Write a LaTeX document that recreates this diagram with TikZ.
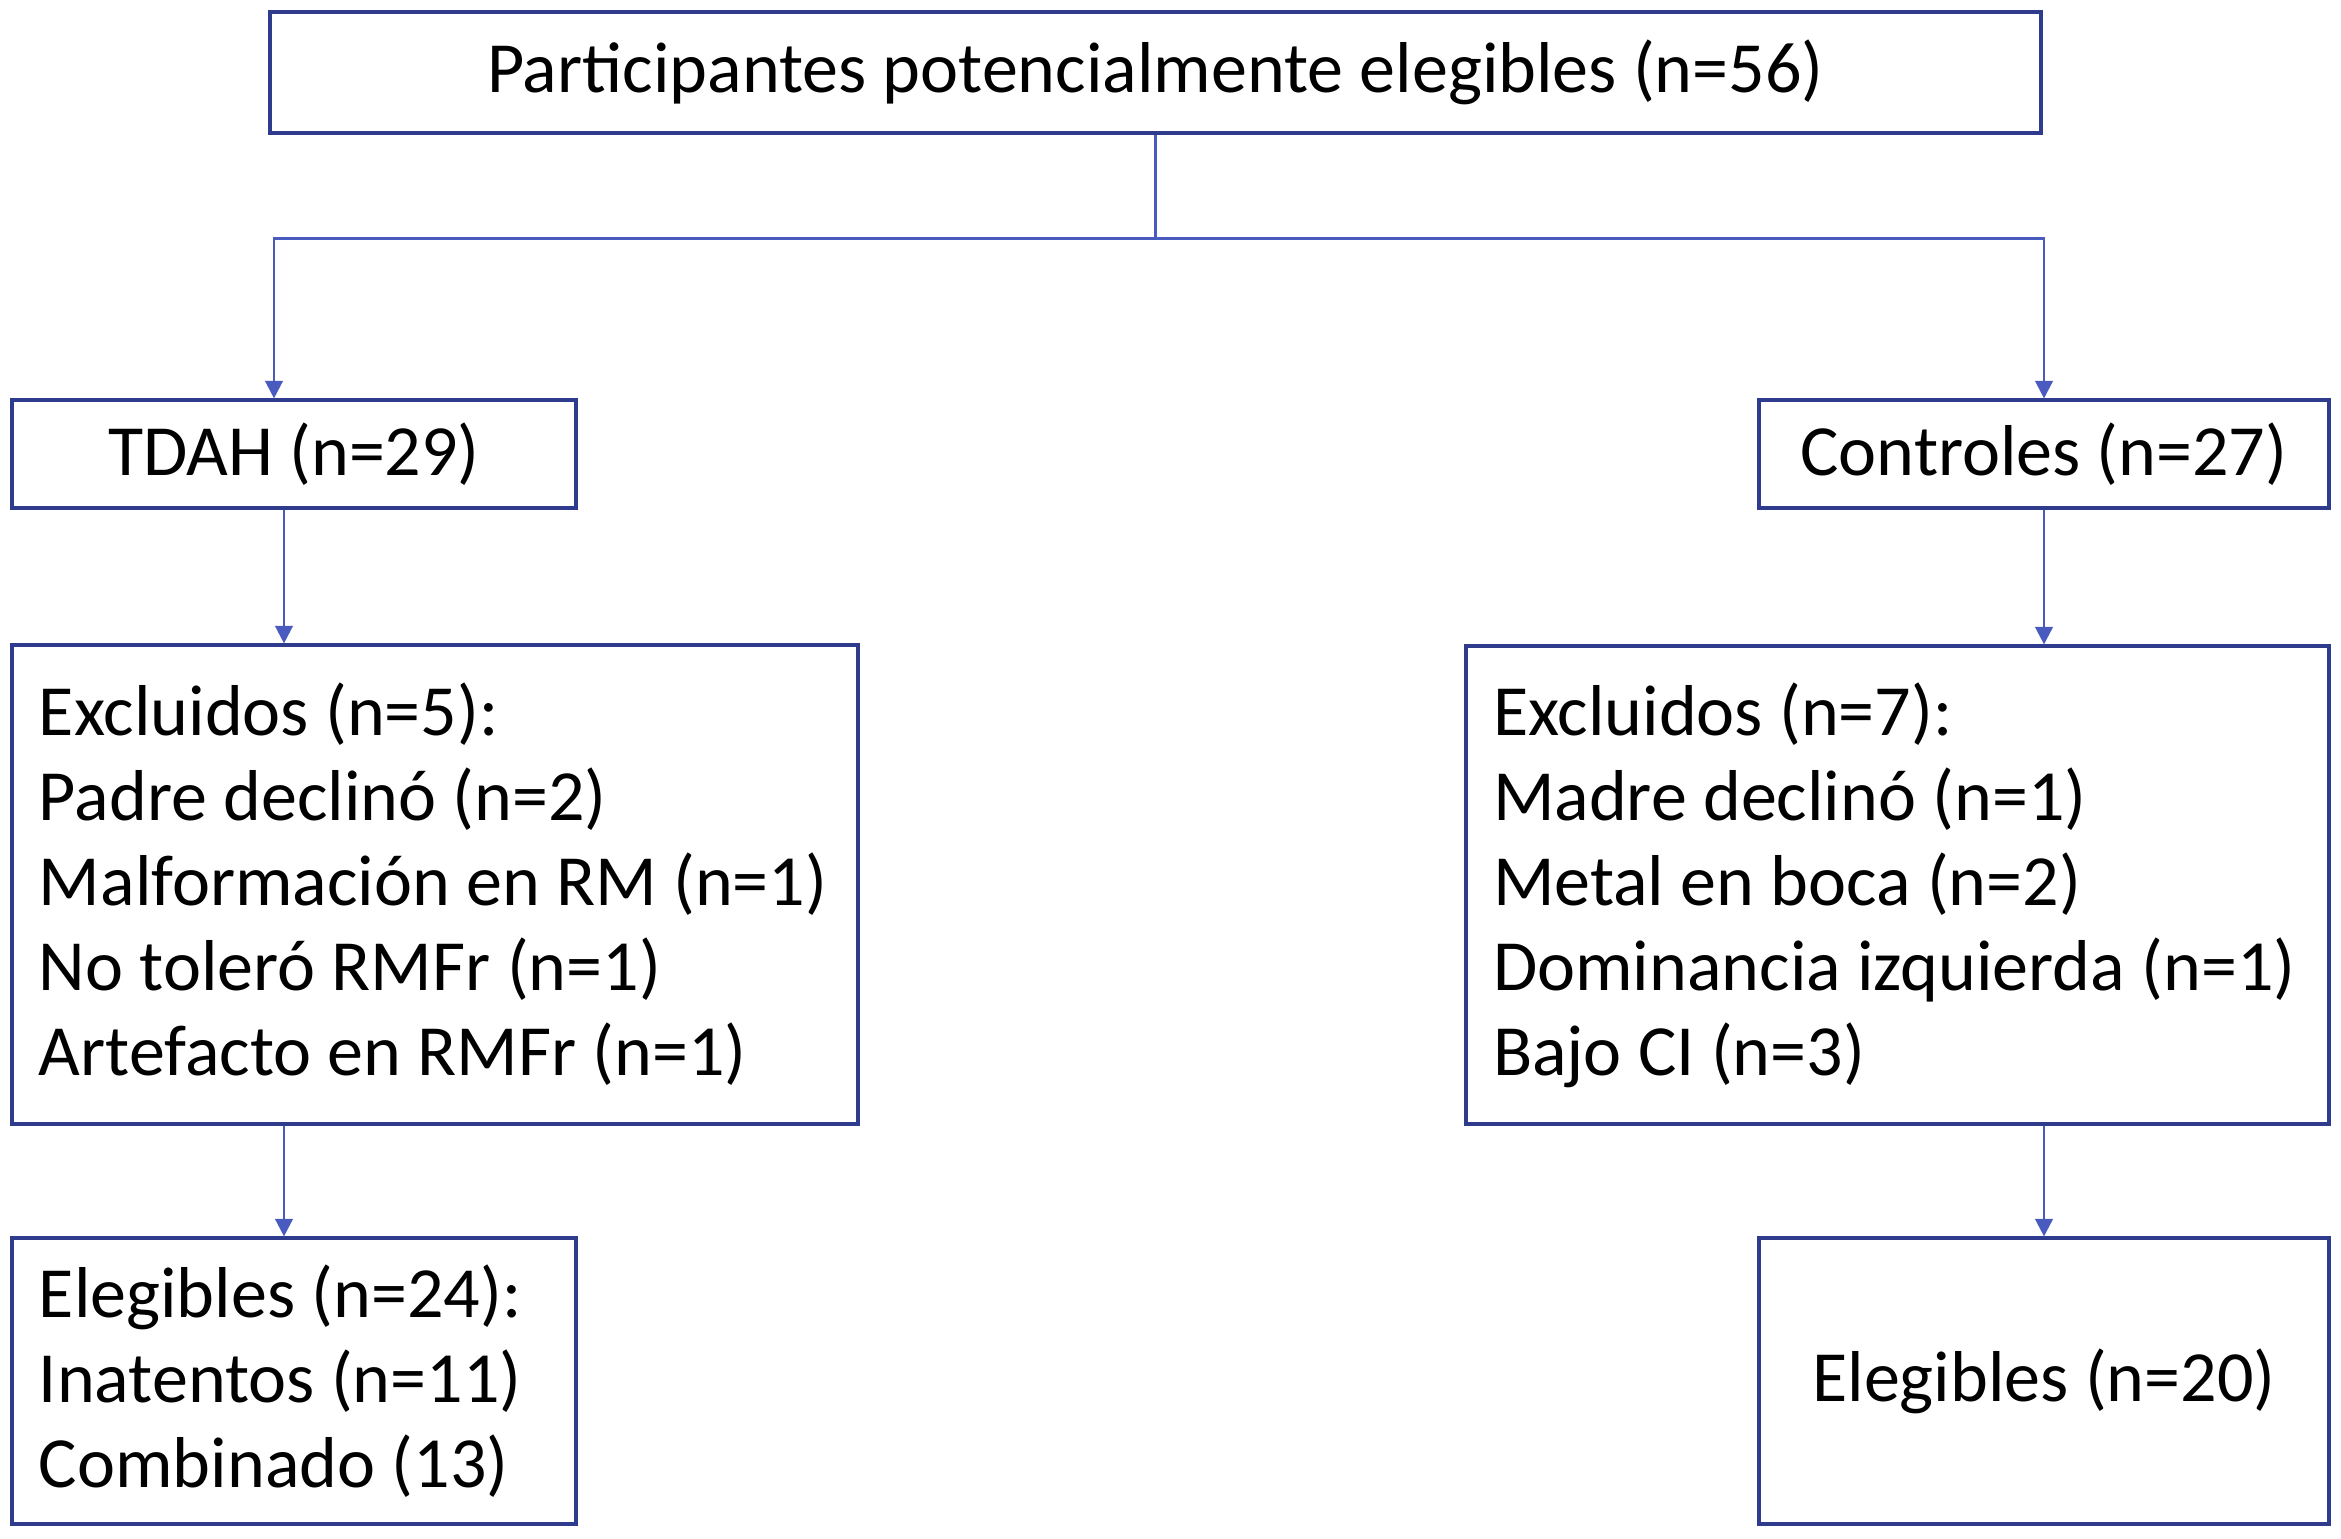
\documentclass[tikz,border=0pt]{standalone}
\usepackage{fontspec}
\setmainfont{Carlito}
\usetikzlibrary{arrows.meta}
\definecolor{Navy}{HTML}{2F3B8C}
\definecolor{Flow}{HTML}{4A5BC0}

\begin{document}
\begin{tikzpicture}[every node/.style={font=\fontsize{20.5}{24.2}\selectfont,text=black},box/.style={draw=Navy,line width=0.9pt,rectangle,inner sep=0pt},list/.style={box,align=flush left,inner xsep=0.27cm},flow/.style={draw=Flow,line width=0.7pt,-{Triangle[width=5pt,length=5pt]}}]
\useasboundingbox (0,0) rectangle (23.41,-15.38);

\node[box,minimum width=17.71cm,minimum height=1.21cm] (top) at (11.555,-0.725) {Participantes potencialmente elegibles (n=56)};
\node[box,minimum width=5.64cm,minimum height=1.08cm] (tdah) at (2.94,-4.54) {TDAH (n=29)};
\node[box,minimum width=5.70cm,minimum height=1.08cm] (ctrl) at (20.44,-4.54) {Controles (n=27)};

\node[list,text width=7.92cm,minimum height=4.79cm] (exL) at (4.35,-8.845) {Excluidos (n=5):\\Padre declinó (n=2)\\Malformación en RM (n=1)\\No toleró RMFr (n=1)\\Artefacto en RMFr (n=1)};
\node[list,text width=8.09cm,minimum height=4.78cm] (exR) at (18.975,-8.85) {Excluidos (n=7):\\Madre declinó (n=1)\\Metal en boca (n=2)\\Dominancia izquierda (n=1)\\Bajo CI (n=3)};

\node[list,text width=5.10cm,minimum height=2.86cm] (elL) at (2.94,-13.81) {Elegibles (n=24):\\Inatentos (n=11)\\Combinado (13)};
\node[box,minimum width=5.70cm,minimum height=2.86cm] (elR) at (20.44,-13.81) {Elegibles (n=20)};

\coordinate (lx) at (2.84,0);\coordinate (sx) at (2.74,0);
\draw[flow,-] (top.south) -- ++(0,-1.04) coordinate (split);
\draw[flow] (split) -| (sx |- tdah.north);\draw[flow] (split) -| (ctrl.north);
\draw[flow] (lx |- tdah.south) -- (lx |- exL.north);\draw[flow] (ctrl.south) -- (ctrl.south |- exR.north);
\draw[flow] (lx |- exL.south) -- (lx |- elL.north);\draw[flow] (ctrl.south |- exR.south) -- (elR.north);
\end{tikzpicture}
\end{document}
